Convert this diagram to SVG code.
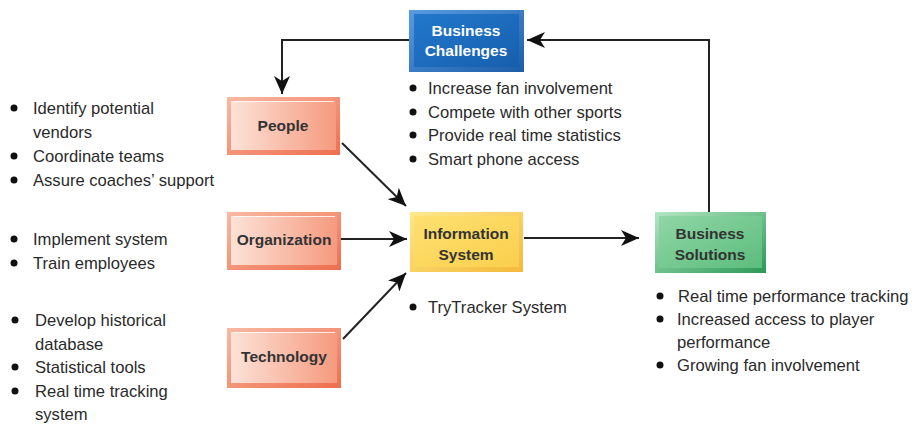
<svg xmlns="http://www.w3.org/2000/svg" width="918" height="426" viewBox="0 0 918 426">
<defs>
<style>
.t{font-family:"Liberation Sans",Arial,sans-serif;font-size:16.6px;fill:#2a2a2a}
.bl{font-family:"Liberation Sans",Arial,sans-serif;font-size:15.5px;font-weight:bold;text-anchor:middle}
.dk{fill:#333}
.wh{fill:#fff}
.c{stroke:#222;stroke-width:2;fill:none}
.dot{fill:#111}
</style>
<linearGradient id="gSal" x1="0" y1="0" x2="1" y2="0"><stop offset="0" stop-color="#fde2d8"/><stop offset="1" stop-color="#f59a7e"/></linearGradient>
<linearGradient id="gSalE" x1="0" y1="0" x2="1" y2="1"><stop offset="0" stop-color="#f9b9a2"/><stop offset="1" stop-color="#ee6e4f"/></linearGradient>
<linearGradient id="gBlu" x1="0" y1="0" x2="1" y2="1"><stop offset="0" stop-color="#2278cc"/><stop offset="1" stop-color="#175fae"/></linearGradient>
<linearGradient id="gBluE" x1="0" y1="0" x2="1" y2="1"><stop offset="0" stop-color="#5a9be0"/><stop offset="1" stop-color="#1b5ea8"/></linearGradient>
<linearGradient id="gYel" x1="0" y1="0" x2="1" y2="1"><stop offset="0" stop-color="#fde070"/><stop offset="1" stop-color="#fbcf4d"/></linearGradient>
<linearGradient id="gYelE" x1="0" y1="0" x2="1" y2="1"><stop offset="0" stop-color="#fde98c"/><stop offset="1" stop-color="#f4b93a"/></linearGradient>
<linearGradient id="gGrn" x1="0" y1="0" x2="1" y2="1"><stop offset="0" stop-color="#8fd6a6"/><stop offset="1" stop-color="#5cbd7c"/></linearGradient>
<linearGradient id="gGrnE" x1="0" y1="0" x2="1" y2="1"><stop offset="0" stop-color="#b5e6c4"/><stop offset="1" stop-color="#2a9a55"/></linearGradient>
<marker id="ah" markerUnits="userSpaceOnUse" markerWidth="20" markerHeight="16" refX="18" refY="8" orient="auto">
<path d="M0,0 L18,8 L0,16 L5,8 Z" fill="#111"/>
</marker>
</defs>

<g id="connectors">
<polyline class="c" points="409,40 282,40 282,94" marker-end="url(#ah)"/>
<polyline class="c" points="709,212 709,40 527,40" marker-end="url(#ah)"/>
<line class="c" x1="342" y1="143" x2="406" y2="206" marker-end="url(#ah)"/>
<line class="c" x1="341" y1="239" x2="407" y2="239" marker-end="url(#ah)"/>
<line class="c" x1="343" y1="339" x2="406" y2="273" marker-end="url(#ah)"/>
<line class="c" x1="524" y1="238" x2="639" y2="238" marker-end="url(#ah)"/>
</g>

<g id="business-challenges">
<rect x="409" y="10" width="115" height="62" fill="url(#gBluE)"/>
<rect x="414" y="14" width="105" height="53" fill="url(#gBlu)"/>
<text class="bl wh" x="466" y="36">Business</text>
<text class="bl wh" x="466" y="56">Challenges</text>
</g>

<g id="people">
<rect x="227" y="97" width="113" height="58" fill="url(#gSalE)"/>
<rect x="231" y="101" width="105" height="49" fill="url(#gSal)"/>
<line x1="233" y1="101.5" x2="334" y2="101.5" stroke="#fff" stroke-width="1" opacity="0.8"/>
<text class="bl dk" x="283" y="131">People</text>
</g>

<g id="organization">
<rect x="227" y="212" width="114" height="58" fill="url(#gSalE)"/>
<rect x="231" y="216" width="106" height="49" fill="url(#gSal)"/>
<line x1="233" y1="216.5" x2="335" y2="216.5" stroke="#fff" stroke-width="1" opacity="0.8"/>
<text class="bl dk" x="284" y="245">Organization</text>
</g>

<g id="technology">
<rect x="227" y="328" width="114" height="60" fill="url(#gSalE)"/>
<rect x="231" y="332" width="106" height="51" fill="url(#gSal)"/>
<line x1="233" y1="332.5" x2="335" y2="332.5" stroke="#fff" stroke-width="1" opacity="0.8"/>
<text class="bl dk" x="284" y="362">Technology</text>
</g>

<g id="information-system">
<rect x="410" y="212" width="113" height="60" fill="url(#gYelE)"/>
<rect x="414" y="216" width="105" height="51" fill="url(#gYel)"/>
<text class="bl dk" x="466" y="239">Information</text>
<text class="bl dk" x="466" y="260">System</text>
</g>

<g id="business-solutions">
<rect x="655" y="212" width="111" height="61" fill="url(#gGrnE)"/>
<rect x="659" y="216" width="103" height="52" fill="url(#gGrn)"/>
<text class="bl dk" x="710" y="239">Business</text>
<text class="bl dk" x="710" y="260">Solutions</text>
</g>

<g id="people-list">
<circle class="dot" cx="14" cy="108" r="3.5"/>
<text class="t" x="33" y="114">Identify potential</text>
<text class="t" x="33" y="138">vendors</text>
<circle class="dot" cx="14" cy="156" r="3.5"/>
<text class="t" x="33" y="162">Coordinate teams</text>
<circle class="dot" cx="14" cy="180" r="3.5"/>
<text class="t" x="33" y="186">Assure coaches’ support</text>
</g>

<g id="organization-list">
<circle class="dot" cx="14" cy="239" r="3.5"/>
<text class="t" x="33" y="245">Implement system</text>
<circle class="dot" cx="14" cy="263" r="3.5"/>
<text class="t" x="33" y="269">Train employees</text>
</g>

<g id="technology-list">
<circle class="dot" cx="15" cy="320" r="3.5"/>
<text class="t" x="35" y="326">Develop historical</text>
<text class="t" x="35" y="350">database</text>
<circle class="dot" cx="15" cy="367" r="3.5"/>
<text class="t" x="35" y="373">Statistical tools</text>
<circle class="dot" cx="15" cy="391" r="3.5"/>
<text class="t" x="35" y="397">Real time tracking</text>
<text class="t" x="35" y="420">system</text>
</g>

<g id="challenges-list">
<circle class="dot" cx="413" cy="88" r="3.5"/>
<text class="t" x="428" y="94">Increase fan involvement</text>
<circle class="dot" cx="413" cy="112" r="3.5"/>
<text class="t" x="428" y="118">Compete with other sports</text>
<circle class="dot" cx="413" cy="135" r="3.5"/>
<text class="t" x="428" y="141">Provide real time statistics</text>
<circle class="dot" cx="413" cy="159" r="3.5"/>
<text class="t" x="428" y="165">Smart phone access</text>
</g>

<g id="system-list">
<circle class="dot" cx="413" cy="307" r="3.5"/>
<text class="t" x="428" y="313">TryTracker System</text>
</g>

<g id="solutions-list">
<circle class="dot" cx="660" cy="296" r="3.5"/>
<text class="t" x="678" y="302">Real time performance tracking</text>
<circle class="dot" cx="660" cy="319" r="3.5"/>
<text class="t" x="677" y="325">Increased access to player</text>
<text class="t" x="677" y="348">performance</text>
<circle class="dot" cx="660" cy="365" r="3.5"/>
<text class="t" x="677" y="371">Growing fan involvement</text>
</g>
</svg>
